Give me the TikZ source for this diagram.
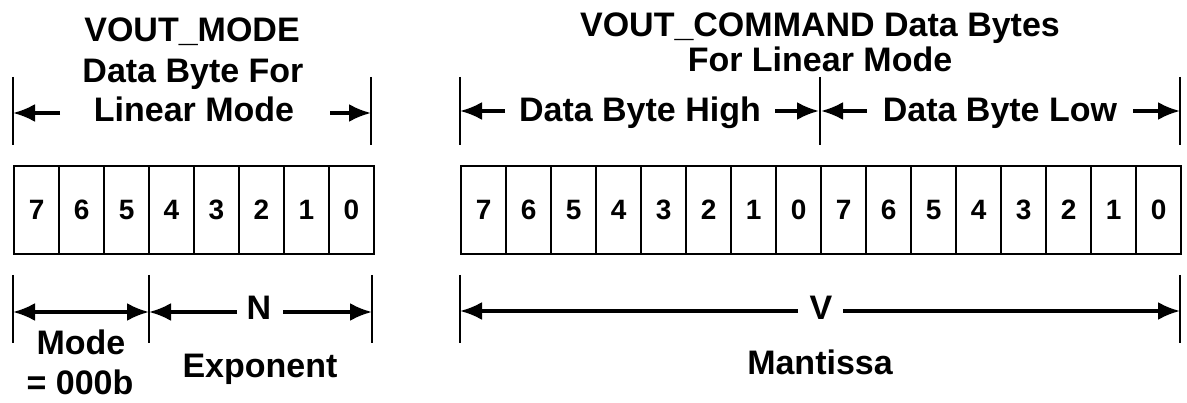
\documentclass[tikz,border=0pt]{standalone}
\usepackage{fontspec}
\setmainfont{Liberation Sans}
\usetikzlibrary{arrows.meta}
\tikzset{
  lbl/.style={font=\fontsize{34}{40}\selectfont\bfseries, inner sep=0pt, anchor=base},
  cell/.style={draw, line width=2.4pt, minimum width=44.95pt, minimum height=88pt, inner sep=0pt, anchor=north west, font=\fontsize{28}{32}\selectfont\bfseries},
  tick/.style={line width=2.6pt},
  arr/.style={line width=3.2pt, -{Latex[length=22pt,width=18pt]}},
  darr/.style={line width=3.2pt, {Latex[length=22pt,width=18pt]}-{Latex[length=22pt,width=18pt]}}
}
\begin{document}
\begin{tikzpicture}[x=1pt,y=-1pt]
\useasboundingbox[fill=white] (0,0) rectangle (1187,403);

% ---------- Left: VOUT_MODE ----------
\node[lbl] (t1a) at (192,42) {VOUT\_MODE};
\node[lbl] (t1b) at (193,83) {Data Byte For};
\node[lbl] (t1c) at (194,122) {Linear Mode};

\coordinate (lt1a) at (13,77);  \coordinate (lt1b) at (13,145);
\coordinate (lt2a) at (371,77); \coordinate (lt2b) at (371,145);
\draw[tick] (lt1a) -- (lt1b);
\draw[tick] (lt2a) -- (lt2b);
\coordinate (la1tip) at (13,113);  \coordinate (la1tail) at (60,113);
\coordinate (la2tail) at (330,113); \coordinate (la2tip) at (371,113);
\draw[arr] (la1tail) -- (la1tip);
\draw[arr] (la2tail) -- (la2tip);

\foreach \i in {0,...,7}{
  \pgfmathtruncatemacro{\d}{7-\i}
  \node[cell] (L\i) at ({13+\i*44.95},165) {\d};
}

\coordinate (lb1a) at (13,275);  \coordinate (lb1b) at (13,343);
\coordinate (lb2a) at (149,275); \coordinate (lb2b) at (149,343);
\coordinate (lb3a) at (372,275); \coordinate (lb3b) at (372,343);
\draw[tick] (lb1a) -- (lb1b);
\draw[tick] (lb2a) -- (lb2b);
\draw[tick] (lb3a) -- (lb3b);
\coordinate (mA) at (13,312); \coordinate (mB) at (149,312);
\draw[darr] (mA) -- (mB);
\node[lbl] (N) at (259,320) {N};
\coordinate (nA) at (237,312); \coordinate (nB) at (283,312); \coordinate (nC) at (372,312);
\draw[arr] (nA) -- (mB);
\draw[arr] (nB) -- (nC);
\node[lbl] (mode1) at (81,355) {Mode};
\node[lbl] (mode2) at (80,395) {= 000b};
\node[lbl] (expo) at (260,378) {Exponent};

% ---------- Right: VOUT_COMMAND ----------
\node[lbl] (t2a) at (820,37) {VOUT\_COMMAND Data Bytes};
\node[lbl] (t2b) at (820,72) {For Linear Mode};

\coordinate (rt1a) at (460,77);  \coordinate (rt1b) at (460,145);
\coordinate (rt2a) at (820,77);  \coordinate (rt2b) at (820,145);
\coordinate (rt3a) at (1180,77); \coordinate (rt3b) at (1180,145);
\draw[tick] (rt1a) -- (rt1b);
\draw[tick] (rt2a) -- (rt2b);
\draw[tick] (rt3a) -- (rt3b);
\node[lbl] (dbh) at (640,122) {Data Byte High};
\node[lbl] (dbl) at (1000,122) {Data Byte Low};
\coordinate (ra1tip) at (460,111); \coordinate (ra1tail) at (505,111);
\coordinate (ra2tail) at (775,111); \coordinate (ra2tip) at (819,111);
\coordinate (ra3tip) at (821,111); \coordinate (ra3tail) at (867,111);
\coordinate (ra4tail) at (1133,111); \coordinate (ra4tip) at (1180,111);
\draw[arr] (ra1tail) -- (ra1tip);
\draw[arr] (ra2tail) -- (ra2tip);
\draw[arr] (ra3tail) -- (ra3tip);
\draw[arr] (ra4tail) -- (ra4tip);

\foreach \i in {0,...,15}{
  \pgfmathtruncatemacro{\d}{mod(15-\i,8)}
  \node[cell, minimum width=45pt] (R\i) at ({460+\i*45},165) {\d};
}

\coordinate (rb1a) at (460,275);  \coordinate (rb1b) at (460,343);
\coordinate (rb2a) at (1180,275); \coordinate (rb2b) at (1180,343);
\draw[tick] (rb1a) -- (rb1b);
\draw[tick] (rb2a) -- (rb2b);
\node[lbl] (V) at (821,320) {V};
\coordinate (vA) at (798,311); \coordinate (vB) at (460,311);
\coordinate (vC) at (843,311); \coordinate (vD) at (1180,311);
\draw[arr] (vA) -- (vB);
\draw[arr] (vC) -- (vD);
\node[lbl] (mant) at (820,375) {Mantissa};
\end{tikzpicture}
\end{document}
